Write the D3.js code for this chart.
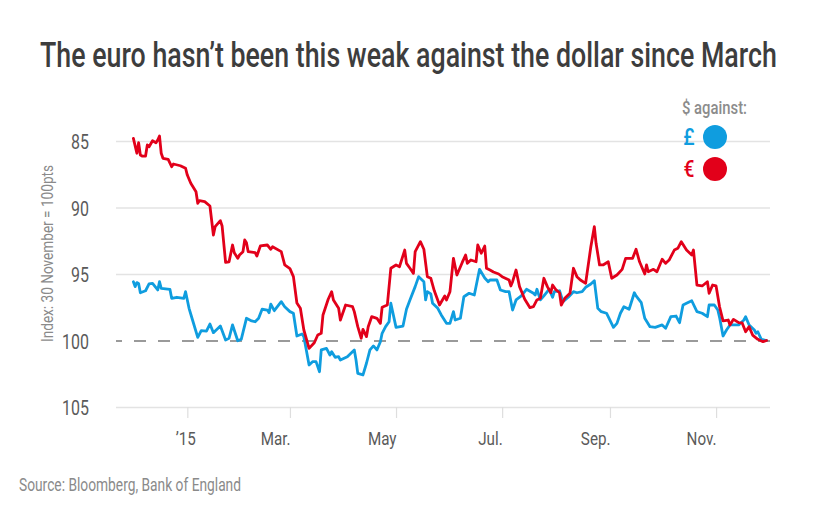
<!DOCTYPE html>
<html><head><meta charset="utf-8">
<script src="https://cdn.jsdelivr.net/npm/d3@7"></script>
<style>
body{margin:0;background:#fff;}
svg{display:block;}
text{font-family:"Roboto","Noto Sans",sans-serif;}
</style></head><body>
<svg id="chart" width="839" height="512"></svg>
<script>
const titleText = "The euro hasn’t been this weak against the dollar since March";
const sourceText = "Source: Bloomberg, Bank of England";
const yAxisTitle = "Index: 30 November = 100pts";
const legendTitle = "$ against:";
const seriesNames = ["£", "€"];
const seriesColors = ["#0f9ddf", "#e2001a"];

const yTicks = [85, 90, 95, 100, 105];
const xTickDates = ["2015-01-01","2015-03-01","2015-05-01","2015-07-01","2015-09-01","2015-11-01"];
const xTickLabels = ["’15","Mar.","May","Jul.","Sep.","Nov."];

const eurDates = ["2014-12-01","2014-12-03","2014-12-04","2014-12-05","2014-12-06","2014-12-08","2014-12-09","2014-12-10","2014-12-12","2014-12-14","2014-12-15","2014-12-16","2014-12-17","2014-12-18","2014-12-21","2014-12-23","2014-12-24","2014-12-28","2014-12-31",
"2015-01-01","2015-01-03","2015-01-06","2015-01-07","2015-01-08","2015-01-11","2015-01-14","2015-01-16","2015-01-17","2015-01-20","2015-01-21","2015-01-23","2015-01-25","2015-01-27","2015-01-28","2015-01-30","2015-01-31",
"2015-02-02","2015-02-03","2015-02-04","2015-02-05","2015-02-09","2015-02-10","2015-02-12","2015-02-16","2015-02-18","2015-02-19","2015-02-24","2015-02-26",
"2015-03-01","2015-03-03","2015-03-05","2015-03-07","2015-03-09","2015-03-12","2015-03-15","2015-03-17","2015-03-19","2015-03-20","2015-03-23","2015-03-25","2015-03-26","2015-03-29","2015-03-30",
"2015-04-02","2015-04-06","2015-04-07","2015-04-09","2015-04-11","2015-04-12","2015-04-14","2015-04-15","2015-04-17","2015-04-20","2015-04-22","2015-04-23","2015-04-26","2015-04-28",
"2015-05-01","2015-05-03","2015-05-06","2015-05-07","2015-05-09","2015-05-11","2015-05-12","2015-05-15","2015-05-17","2015-05-19","2015-05-21","2015-05-23","2015-05-26","2015-05-29","2015-05-30",
"2015-06-01","2015-06-03","2015-06-05","2015-06-08","2015-06-10","2015-06-11","2015-06-13","2015-06-16","2015-06-17","2015-06-19","2015-06-21","2015-06-22","2015-06-24","2015-06-26","2015-06-29",
"2015-07-01","2015-07-05","2015-07-06","2015-07-07","2015-07-09","2015-07-11","2015-07-14","2015-07-17","2015-07-19","2015-07-21","2015-07-23","2015-07-25","2015-07-27","2015-07-29","2015-07-30",
"2015-08-01","2015-08-03","2015-08-04","2015-08-06","2015-08-09","2015-08-11","2015-08-13","2015-08-15","2015-08-18","2015-08-21","2015-08-23","2015-08-24","2015-08-26","2015-08-28","2015-08-31",
"2015-09-02","2015-09-05","2015-09-08","2015-09-10","2015-09-14","2015-09-16","2015-09-18","2015-09-21","2015-09-22","2015-09-23","2015-09-26","2015-09-28",
"2015-10-01","2015-10-03","2015-10-05","2015-10-08","2015-10-10","2015-10-12","2015-10-15","2015-10-18","2015-10-19","2015-10-21","2015-10-24","2015-10-27","2015-10-28","2015-10-30",
"2015-11-01","2015-11-03","2015-11-05","2015-11-08","2015-11-09","2015-11-11","2015-11-14","2015-11-16","2015-11-18","2015-11-20","2015-11-22","2015-11-25","2015-11-28","2015-11-30"];
const eurValues = [84.80,85.92,85.13,86.05,86.13,86.13,85.30,85.43,84.98,85.13,84.92,84.62,85.92,86.30,86.38,86.93,86.73,86.86,87.05,
87.56,88.18,88.81,89.68,89.49,89.56,89.89,92.07,91.44,90.99,91.39,94.12,94.08,92.82,93.40,93.82,93.57,
93.32,92.44,92.65,93.32,93.40,93.65,92.89,92.82,93.14,92.95,93.32,94.32,
94.60,95.20,97.18,97.58,99.21,100.59,100.17,99.59,99.46,98.08,96.90,96.33,96.95,97.58,98.46,
97.33,97.46,97.83,98.96,99.83,99.16,99.71,98.96,98.21,98.33,98.71,97.50,97.33,94.57,
94.32,94.45,93.20,94.20,94.57,94.95,93.32,92.57,93.14,95.20,95.32,96.26,97.33,96.65,96.95,
96.33,93.82,95.08,94.15,93.57,94.20,93.95,94.08,92.82,93.44,92.90,94.57,94.70,94.85,95.00,
95.20,95.45,95.90,95.58,94.70,95.95,96.90,97.53,97.46,96.95,96.83,95.32,95.95,96.41,95.83,
96.20,96.41,97.33,96.83,96.45,94.57,95.20,95.45,95.70,92.95,91.44,92.69,94.32,94.32,94.08,
95.32,95.08,94.65,93.82,93.82,93.14,94.08,95.00,94.32,94.83,94.65,94.83,
93.89,94.20,93.95,93.20,93.07,92.57,93.20,93.57,93.20,95.83,95.90,95.58,96.45,95.83,
95.90,97.46,98.53,98.46,98.83,98.41,98.66,98.68,99.34,98.96,99.59,99.91,100.09,100.00];

const gbpDates = ["2014-12-01","2014-12-02","2014-12-03","2014-12-04","2014-12-05","2014-12-08","2014-12-10","2014-12-12","2014-12-15","2014-12-16","2014-12-17","2014-12-22","2014-12-23","2014-12-26","2014-12-30","2014-12-31",
"2015-01-02","2015-01-04","2015-01-07","2015-01-09","2015-01-12","2015-01-14","2015-01-16","2015-01-20","2015-01-23","2015-01-25","2015-01-27","2015-01-30",
"2015-02-01","2015-02-04","2015-02-07","2015-02-09","2015-02-11","2015-02-13","2015-02-16","2015-02-17","2015-02-18","2015-02-20","2015-02-24","2015-02-26",
"2015-03-01","2015-03-03","2015-03-05","2015-03-08","2015-03-09","2015-03-12","2015-03-14","2015-03-16","2015-03-18","2015-03-19","2015-03-22","2015-03-24","2015-03-25","2015-03-27","2015-03-29","2015-03-30",
"2015-04-03","2015-04-07","2015-04-08","2015-04-09","2015-04-12","2015-04-14","2015-04-16","2015-04-18","2015-04-20","2015-04-22","2015-04-23","2015-04-25","2015-04-27","2015-04-28",
"2015-05-01","2015-05-05","2015-05-07","2015-05-09","2015-05-12","2015-05-14","2015-05-17","2015-05-18","2015-05-19","2015-05-21","2015-05-22","2015-05-25","2015-05-27","2015-05-30",
"2015-06-01","2015-06-03","2015-06-04","2015-06-07","2015-06-09","2015-06-12","2015-06-15","2015-06-18","2015-06-21","2015-06-23","2015-06-24","2015-06-28","2015-06-30",
"2015-07-03","2015-07-05","2015-07-07","2015-07-09","2015-07-12","2015-07-15","2015-07-19","2015-07-20","2015-07-21","2015-07-23","2015-07-25","2015-07-28","2015-07-30","2015-07-31",
"2015-08-03","2015-08-05","2015-08-08","2015-08-11","2015-08-13","2015-08-16","2015-08-18","2015-08-21","2015-08-23","2015-08-25","2015-08-27","2015-08-30",
"2015-09-03","2015-09-05","2015-09-07","2015-09-09","2015-09-12","2015-09-15","2015-09-16","2015-09-19","2015-09-21","2015-09-24","2015-09-27",
"2015-10-01","2015-10-03","2015-10-06","2015-10-09","2015-10-11","2015-10-13","2015-10-15","2015-10-18","2015-10-21","2015-10-24","2015-10-27","2015-10-28","2015-10-31",
"2015-11-02","2015-11-03","2015-11-05","2015-11-07","2015-11-09","2015-11-14","2015-11-17","2015-11-18","2015-11-20","2015-11-23","2015-11-24","2015-11-25","2015-11-27","2015-11-30"];
const gbpValues = [95.58,95.95,95.65,95.71,96.41,96.26,95.75,95.70,96.20,95.58,96.08,96.15,96.83,96.75,96.83,96.33,
97.58,98.46,99.76,99.26,99.29,98.76,99.41,98.91,99.96,99.83,98.83,100.02,
99.91,98.33,98.53,98.59,98.33,97.65,97.71,97.91,97.26,97.76,97.08,97.46,
97.83,97.95,99.66,99.51,99.71,101.84,101.59,101.59,102.35,100.71,100.59,101.09,100.84,101.26,101.22,101.47,
101.22,100.71,101.47,102.47,102.59,101.71,100.71,100.41,100.71,100.09,99.46,98.96,98.59,97.20,
99.01,98.91,97.65,96.95,95.95,95.20,95.58,96.95,96.33,96.50,97.20,97.58,98.08,98.71,
98.71,97.83,98.46,98.33,96.71,96.45,96.58,94.65,95.30,95.58,95.45,95.45,96.20,
96.33,96.33,97.71,96.95,96.65,96.15,96.45,96.58,96.15,96.95,96.65,96.15,96.75,96.33,
96.26,97.08,96.75,96.33,96.41,96.33,96.00,95.75,95.50,97.58,97.83,97.95,
99.01,98.71,97.95,97.46,97.65,96.41,96.65,97.16,98.33,98.96,99.01,
98.83,99.08,98.21,98.16,98.66,97.33,97.20,97.01,97.83,97.95,98.21,97.33,97.33,
97.71,98.26,99.66,99.21,98.83,98.83,98.46,98.21,98.83,99.21,99.46,99.34,99.91,100.00];

const parse = d3.timeParse("%Y-%m-%d");
const svg = d3.select("#chart");
const plotLeft = 116, plotRight = 770, plotTop = 141, plotBottom = 407;

// squeeze text horizontally to mimic a condensed typeface
function condense(sel, factor) {
  sel.each(function() {
    const len = this.getComputedTextLength();
    d3.select(this).attr("textLength", len * factor).attr("lengthAdjust", "spacingAndGlyphs");
  });
}

const x = d3.scaleTime().domain([parse("2014-11-21"), parse("2015-12-02")]).range([plotLeft, plotRight]);
const y = d3.scaleLinear().domain([85, 105]).range([plotTop, plotBottom]);

// Title (squeezed with a transform so its box stays inside the picture)
const title = svg.append("text").attr("x", 0).attr("y", 0)
  .style("font-size", "36px").style("font-weight", "500").attr("fill", "#3d3d3d")
  .text(titleText);
const titleLen = title.node().getComputedTextLength();
title.attr("transform", `translate(40,66.5) scale(${737 / titleLen},1)`);

// Y axis with gridlines
const yAxis = d3.axisLeft(y).tickValues(yTicks).tickSize(-(plotRight - plotLeft)).tickPadding(27).tickFormat(d3.format("d"));
const gy = svg.append("g").attr("transform", `translate(${plotLeft},0)`).call(yAxis);
gy.select(".domain").remove();
gy.selectAll(".tick line").attr("stroke", d => d === 100 ? "#9a9a9a" : "#e3e3e3")
  .attr("stroke-width", d => d === 100 ? 2 : 1.5)
  .attr("stroke-dasharray", d => d === 100 ? "12,12" : null)
  .attr("stroke-dashoffset", d => d === 100 ? 6 : null);
gy.selectAll(".tick text").attr("fill", "#5a5a5a").style("font-size", "21px")
  .style("font-family", "Roboto, sans-serif").attr("dy", "0.36em")
  .call(condense, 0.76);

// X axis ticks
const xAxis = d3.axisBottom(x).tickValues(xTickDates.map(parse)).tickSize(11).tickPadding(14)
  .tickFormat((d, i) => xTickLabels[i]);
const gx = svg.append("g").attr("transform", `translate(0,${plotBottom})`).call(xAxis);
gx.select(".domain").remove();
gx.selectAll(".tick line").attr("stroke", "#dedede").attr("stroke-width", 1.2);
gx.selectAll(".tick text").attr("fill", "#5a5a5a").style("font-size", "19px")
  .style("font-family", "Roboto, sans-serif")
  .attr("text-anchor", (d, i) => i === 0 ? "middle" : "end")
  .attr("x", (d, i) => i === 0 ? -2 : 0)
  .call(condense, 0.8);

// Y axis title
svg.append("text").attr("transform", "translate(53,253.5) rotate(-90)")
  .attr("text-anchor", "middle").attr("textLength", 177).attr("lengthAdjust", "spacingAndGlyphs")
  .style("font-size", "16px").attr("fill", "#8a8a8a").text(yAxisTitle);

// Lines
const line = d3.line().x(d => x(d.date)).y(d => y(d.value));
const gbpData = gbpDates.map((d, i) => ({date: parse(d), value: gbpValues[i]}));
const eurData = eurDates.map((d, i) => ({date: parse(d), value: eurValues[i]}));
[gbpData, eurData].forEach((data, i) => {
  svg.append("path").datum(data).attr("d", line).attr("fill", "none")
    .attr("stroke", seriesColors[i]).attr("stroke-width", 2.8)
    .attr("stroke-linejoin", "round").attr("stroke-linecap", "round");
});

// Legend
svg.append("text").attr("x", 682).attr("y", 114)
  .attr("textLength", 65).attr("lengthAdjust", "spacingAndGlyphs")
  .style("font-size", "19px").style("font-weight", "500").attr("fill", "#8c8c8c").text(legendTitle);
const legY = [137, 169];
seriesNames.forEach((name, i) => {
  svg.append("text").attr("x", 689).attr("y", legY[i] + 8).attr("text-anchor", "middle")
    .style("font-size", "24px").style("font-weight", "500").attr("fill", seriesColors[i]).text(name)
    .call(condense, 0.8);
  svg.append("circle").attr("cx", 715).attr("cy", legY[i]).attr("r", 12).attr("fill", seriesColors[i]);
});

// Source
svg.append("text").attr("x", 19).attr("y", 490.5)
  .attr("textLength", 222).attr("lengthAdjust", "spacingAndGlyphs")
  .style("font-size", "18px").attr("fill", "#8a8a8a").text(sourceText);
</script>
</body></html>
